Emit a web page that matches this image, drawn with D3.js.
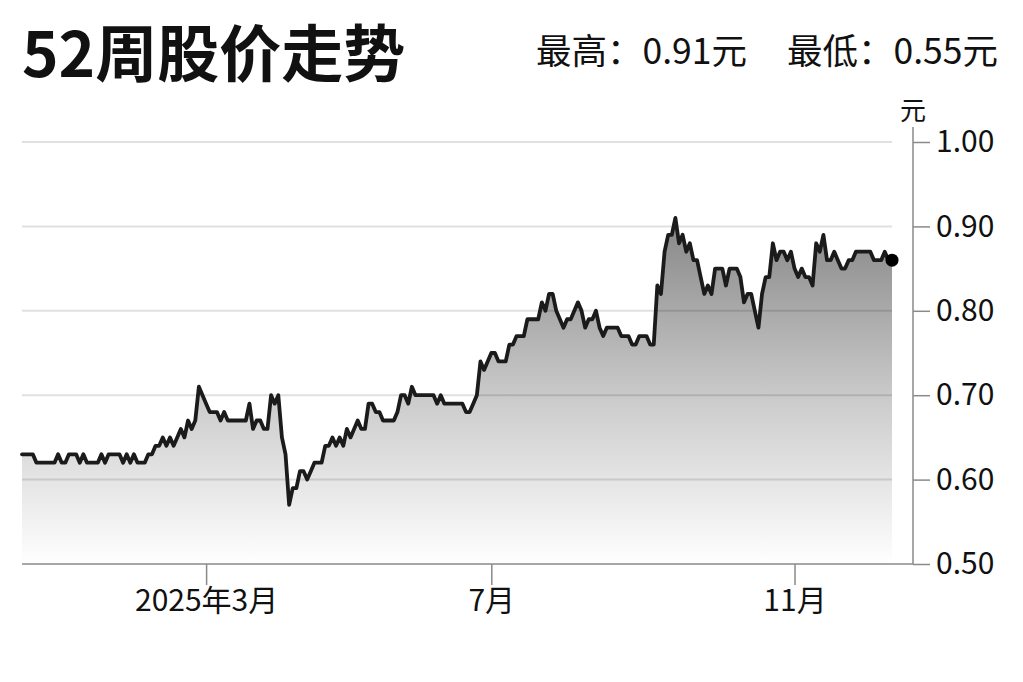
<!DOCTYPE html>
<html>
<head>
<meta charset="utf-8">
<script src="https://cdn.jsdelivr.net/npm/d3@7"></script>
<style>
  html, body { margin: 0; padding: 0; background: #fff; }
  svg { display: block; font-family: "Noto Sans CJK SC", "Noto Sans", sans-serif; }
</style>
</head>
<body>
<div id="chart"></div>
<script>
// daily closes, one per trading day
const prices = [
  0.63, 0.63, 0.63, 0.63, 0.62, 0.62, 0.62, 0.62, 0.62, 0.62,
  0.63, 0.62, 0.62, 0.63, 0.63, 0.63, 0.62, 0.63, 0.62, 0.62,
  0.62, 0.62, 0.63, 0.62, 0.63, 0.63, 0.63, 0.63, 0.62, 0.63,
  0.62, 0.63, 0.62, 0.62, 0.62, 0.63, 0.63, 0.64, 0.64, 0.65,
  0.64, 0.65, 0.64, 0.65, 0.66, 0.65, 0.67, 0.66, 0.67, 0.71,
  0.70, 0.69, 0.68, 0.68, 0.68, 0.67, 0.68, 0.67, 0.67, 0.67,
  0.67, 0.67, 0.67, 0.69, 0.66, 0.67, 0.67, 0.66, 0.66, 0.70,
  0.69, 0.70, 0.65, 0.63, 0.57, 0.59, 0.59, 0.61, 0.61, 0.60,
  0.61, 0.62, 0.62, 0.62, 0.64, 0.64, 0.65, 0.64, 0.65, 0.64,
  0.66, 0.65, 0.66, 0.67, 0.66, 0.66, 0.69, 0.69, 0.68, 0.68,
  0.67, 0.67, 0.67, 0.67, 0.68, 0.70, 0.70, 0.69, 0.71, 0.70,
  0.70, 0.70, 0.70, 0.70, 0.70, 0.69, 0.70, 0.69, 0.69, 0.69,
  0.69, 0.69, 0.69, 0.68, 0.68, 0.69, 0.70, 0.74, 0.73, 0.74,
  0.75, 0.75, 0.74, 0.74, 0.74, 0.76, 0.76, 0.77, 0.77, 0.77,
  0.79, 0.79, 0.79, 0.79, 0.81, 0.80, 0.82, 0.82, 0.80, 0.79,
  0.78, 0.79, 0.79, 0.80, 0.81, 0.80, 0.78, 0.79, 0.79, 0.80,
  0.78, 0.77, 0.78, 0.78, 0.78, 0.78, 0.77, 0.77, 0.77, 0.76,
  0.76, 0.77, 0.77, 0.77, 0.76, 0.76, 0.83, 0.82, 0.87, 0.89,
  0.89, 0.91, 0.88, 0.89, 0.87, 0.88, 0.86, 0.86, 0.84, 0.82,
  0.83, 0.82, 0.85, 0.85, 0.85, 0.83, 0.85, 0.85, 0.85, 0.84,
  0.81, 0.82, 0.82, 0.80, 0.78, 0.82, 0.84, 0.84, 0.88, 0.86,
  0.87, 0.87, 0.86, 0.87, 0.85, 0.84, 0.85, 0.84, 0.84, 0.83,
  0.88, 0.87, 0.89, 0.86, 0.86, 0.87, 0.86, 0.85, 0.85, 0.86,
  0.86, 0.87, 0.87, 0.87, 0.87, 0.87, 0.86, 0.86, 0.86, 0.87,
  0.86, 0.86
];

// month ticks sit on trading-day positions
const tickIndex = [51, 130, 214];
const tickLabels = ["2025年3月", "7月", "11月"];
const yTicks = [0.5, 0.6, 0.7, 0.8, 0.9, 1.0];

const title = "52周股价走势";
const high = 0.91;
const low = 0.55;
const unit = "元";

const width = 1023;
const height = 682;
const plot = {left: 22, right: 892, top: 142, bottom: 564};
const axisX = 913;

const svg = d3.select("#chart")
    .append("svg")
    .attr("width", width)
    .attr("height", height);

const x = d3.scaleLinear().domain([0, prices.length - 1]).range([plot.left, plot.right]);
const y = d3.scaleLinear().domain([0.5, 1.0]).range([plot.bottom, plot.top]);

// gradient under the line
const grad = svg.append("defs").append("linearGradient")
    .attr("id", "fade")
    .attr("gradientUnits", "userSpaceOnUse")
    .attr("x1", 0).attr("x2", 0)
    .attr("y1", y(0.92)).attr("y2", y(0.5));
grad.append("stop").attr("offset", "0%").attr("stop-color", "#838383");
grad.append("stop").attr("offset", "55%").attr("stop-color", "#cdcdcd");
grad.append("stop").attr("offset", "100%").attr("stop-color", "#ffffff");

const area = d3.area()
    .x((d, i) => x(i))
    .y0(y(0.5))
    .y1(d => y(d));

svg.append("path")
    .datum(prices)
    .attr("d", area)
    .attr("fill", "url(#fade)");

// grid lines over the fill
svg.append("g")
    .selectAll("line")
    .data(yTicks.filter(d => d > 0.5))
    .enter()
    .append("line")
    .attr("x1", plot.left)
    .attr("x2", plot.right)
    .attr("y1", d => y(d))
    .attr("y2", d => y(d))
    .attr("stroke", "rgba(0,0,0,0.12)")
    .attr("stroke-width", 2);

const line = d3.line()
    .x((d, i) => x(i))
    .y(d => y(d));

svg.append("path")
    .datum(prices)
    .attr("d", line)
    .attr("fill", "none")
    .attr("stroke", "#1b1b1b")
    .attr("stroke-width", 3.8)
    .attr("stroke-linejoin", "round")
    .attr("stroke-linecap", "round");

svg.append("circle")
    .attr("cx", x(prices.length - 1))
    .attr("cy", y(prices[prices.length - 1]))
    .attr("r", 6.5)
    .attr("fill", "#000");

// axes
const xAxis = d3.axisBottom(x)
    .tickValues(tickIndex)
    .tickFormat((d, i) => tickLabels[i])
    .tickSize(21)
    .tickPadding(5)
    .tickSizeOuter(0);

const gx = svg.append("g")
    .attr("transform", `translate(0, ${plot.bottom})`)
    .call(xAxis);
gx.select(".domain").remove();
gx.selectAll("line").attr("stroke", "#8a8a8a").attr("stroke-width", 1.5);
gx.selectAll("text").attr("font-size", 30).attr("fill", "#111").attr("font-family", "Noto Sans CJK SC");

svg.append("line")
    .attr("x1", plot.left).attr("x2", axisX)
    .attr("y1", plot.bottom).attr("y2", plot.bottom)
    .attr("stroke", "#8a8a8a").attr("stroke-width", 1.5);

const yAxis = d3.axisRight(y)
    .tickValues(yTicks)
    .tickFormat(d3.format(".2f"))
    .tickSize(17)
    .tickPadding(6)
    .tickSizeOuter(0);

const gy = svg.append("g")
    .attr("transform", `translate(${axisX}, 0)`)
    .call(yAxis);
gy.select(".domain").remove();
gy.selectAll("line").attr("stroke", "#8a8a8a").attr("stroke-width", 1.5);
gy.selectAll("text").attr("font-size", 30).attr("fill", "#111").attr("font-family", "Noto Sans CJK SC");

svg.append("line")
    .attr("x1", axisX).attr("x2", axisX)
    .attr("y1", 127).attr("y2", plot.bottom)
    .attr("stroke", "#8a8a8a").attr("stroke-width", 1.5);

svg.append("text")
    .attr("x", axisX)
    .attr("y", 120)
    .attr("text-anchor", "middle")
    .attr("font-size", 26)
    .attr("fill", "#111")
    .text(unit);

// header
svg.append("text")
    .attr("x", 22)
    .attr("y", 77)
    .attr("font-size", 62)
    .attr("font-weight", 700)
    .attr("fill", "#111")
    .text(title);

svg.append("text")
    .attr("x", 536)
    .attr("y", 64)
    .attr("font-size", 35.5)
    .attr("fill", "#111")
    .text(`最高：${high.toFixed(2)}${unit}`);

svg.append("text")
    .attr("x", 998)
    .attr("y", 64)
    .attr("text-anchor", "end")
    .attr("font-size", 35.5)
    .attr("fill", "#111")
    .text(`最低：${low.toFixed(2)}${unit}`);
</script>
</body>
</html>
